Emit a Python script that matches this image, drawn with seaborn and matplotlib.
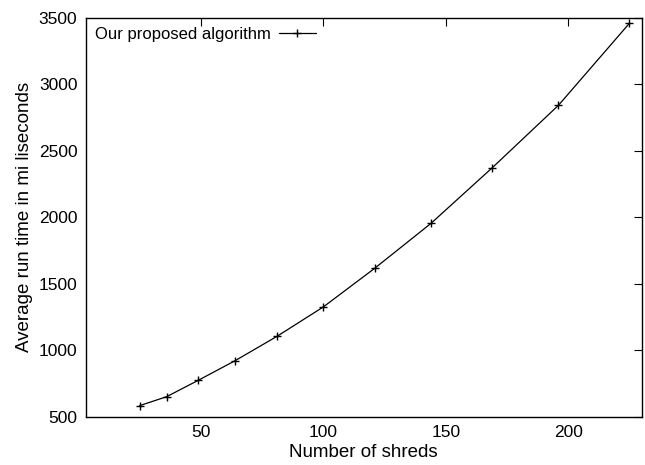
import matplotlib
matplotlib.use("Agg")
import matplotlib.pyplot as plt
import seaborn as sns
import pandas as pd

shreds = [25, 36, 49, 64, 81, 100, 121, 144, 169, 196, 225]
run_time_ms = [583, 650, 774, 921, 1103, 1325, 1616, 1954, 2372, 2841, 3458]
series_label = "Our proposed algorithm"
x_ticks = [50, 100, 150, 200]
y_ticks = [500, 1000, 1500, 2000, 2500, 3000, 3500]

sns.set_style("white")
plt.rcParams['font.family'] = ['Liberation Sans', 'DejaVu Sans']
plt.rcParams['text.color'] = 'black'
plt.rcParams['axes.labelcolor'] = 'black'
plt.rcParams['xtick.color'] = 'black'
plt.rcParams['ytick.color'] = 'black'

df = pd.DataFrame({"shreds": shreds, "time": run_time_ms, "series": series_label})

fig = plt.figure(figsize=(6.45, 4.65), dpi=100)
ax = fig.add_axes([0.1329, 0.1039, 0.9949 - 0.1329, 0.962 - 0.1039])

sns.lineplot(data=df, x="shreds", y="time", hue="series", palette=["black"],
             marker="+", markersize=6, markeredgewidth=1.0,
             markeredgecolor="black", linewidth=0.9, ax=ax)

ax.set_xlim(3, 230)
ax.set_ylim(500, 3500)
ax.set_xticks(x_ticks)
ax.set_yticks(y_ticks)
ax.tick_params(direction="in", length=6, width=0.8, top=True, right=True,
               labelsize=12.5, pad=6, color="black", labelcolor="black")
for s in ax.spines.values():
    s.set_color("black")
    s.set_linewidth(1.0)
ax.set_xlabel("Number of shreds", fontsize=13.5, labelpad=3, color="black")
ax.set_ylabel("Average run time in mi liseconds", fontsize=13.5, labelpad=4,
              color="black")

leg = ax.legend(loc="upper left", frameon=False, markerfirst=False,
                fontsize=12, handlelength=2.2, borderaxespad=0.15,
                handletextpad=0.5)
for t in leg.get_texts():
    t.set_color("black")

fig.savefig("out.png", dpi=100)
